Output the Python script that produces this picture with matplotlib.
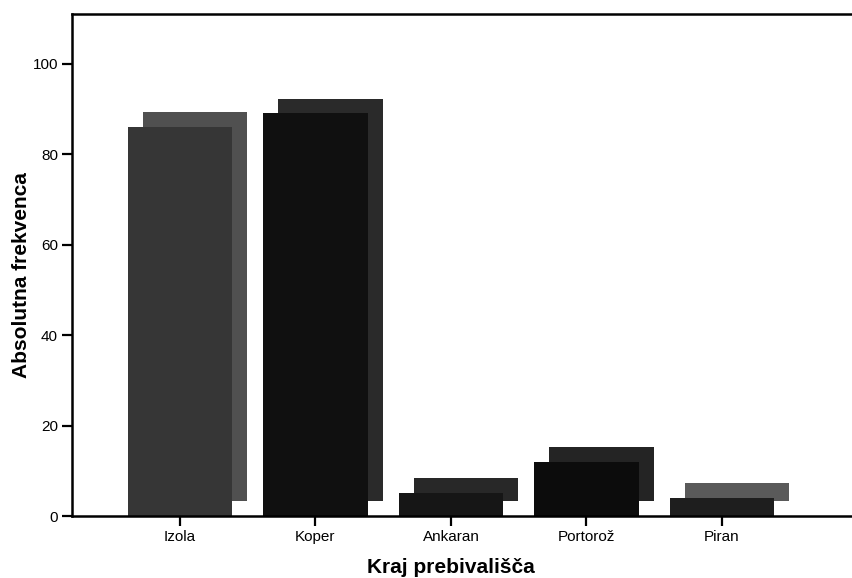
import numpy as np
import matplotlib
matplotlib.use('Agg')
import matplotlib.pyplot as plt

# kraj prebivalisca -> absolutna frekvenca
kraji = ['Izola', 'Koper', 'Ankaran', 'Portorož', 'Piran']
frekvence = [86, 89, 5, 12, 4]
y_ticks = [0, 20, 40, 60, 80, 100]

# colours of the scanned bars (front face, back face)
front_col = ['#363636', '#101010', '#161616', '#0c0c0c', '#1e1e1e']
back_col = ['#505050', '#2a2a2a', '#282828', '#242424', '#5a5a5a']

def main():
	plt.rcParams['font.family'] = ['Liberation Sans', 'DejaVu Sans']

	fig = plt.figure(figsize=(8.52, 5.78), dpi=100)
	ax = fig.add_axes([72/852, 62/578, 780/852, 502/578])

	x = np.arange(len(kraji))
	w = 0.77
	dx = 0.11 #offset of the back face (pseudo 3d)
	dy = 3.3

	# back faces first, then the front ones on top
	ax.bar(x + dx, frekvence, width=w, bottom=dy, color=back_col, edgecolor='none', zorder=2)
	ax.bar(x, frekvence, width=w, color=front_col, edgecolor='none', zorder=3)

	ax.set_xlim(-0.797, 4.96)
	ax.set_ylim(0, 111)
	ax.set_xticks(x)
	ax.set_xticklabels(kraji, fontsize=11)
	ax.set_yticks(y_ticks)
	ax.set_yticklabels([str(t) for t in y_ticks], fontsize=11)
	ax.tick_params(axis='both', direction='out', length=7, width=1.6, color='black', pad=3)

	for s in ['left', 'bottom', 'top']:
		ax.spines[s].set_linewidth(1.8)
		ax.spines[s].set_zorder(5)
	ax.spines['right'].set_visible(False)

	ax.set_xlabel('Kraj prebivališča', fontsize=15, fontweight='bold')
	ax.xaxis.set_label_coords((451 - 72) / 780, -0.083)
	ax.set_ylabel('Absolutna frekvenca', fontsize=15, fontweight='bold')
	ax.yaxis.set_label_coords(-0.052, 0.48)

	plt.savefig('out.png', dpi=100)
	plt.close()


if __name__ == '__main__':
	main()
